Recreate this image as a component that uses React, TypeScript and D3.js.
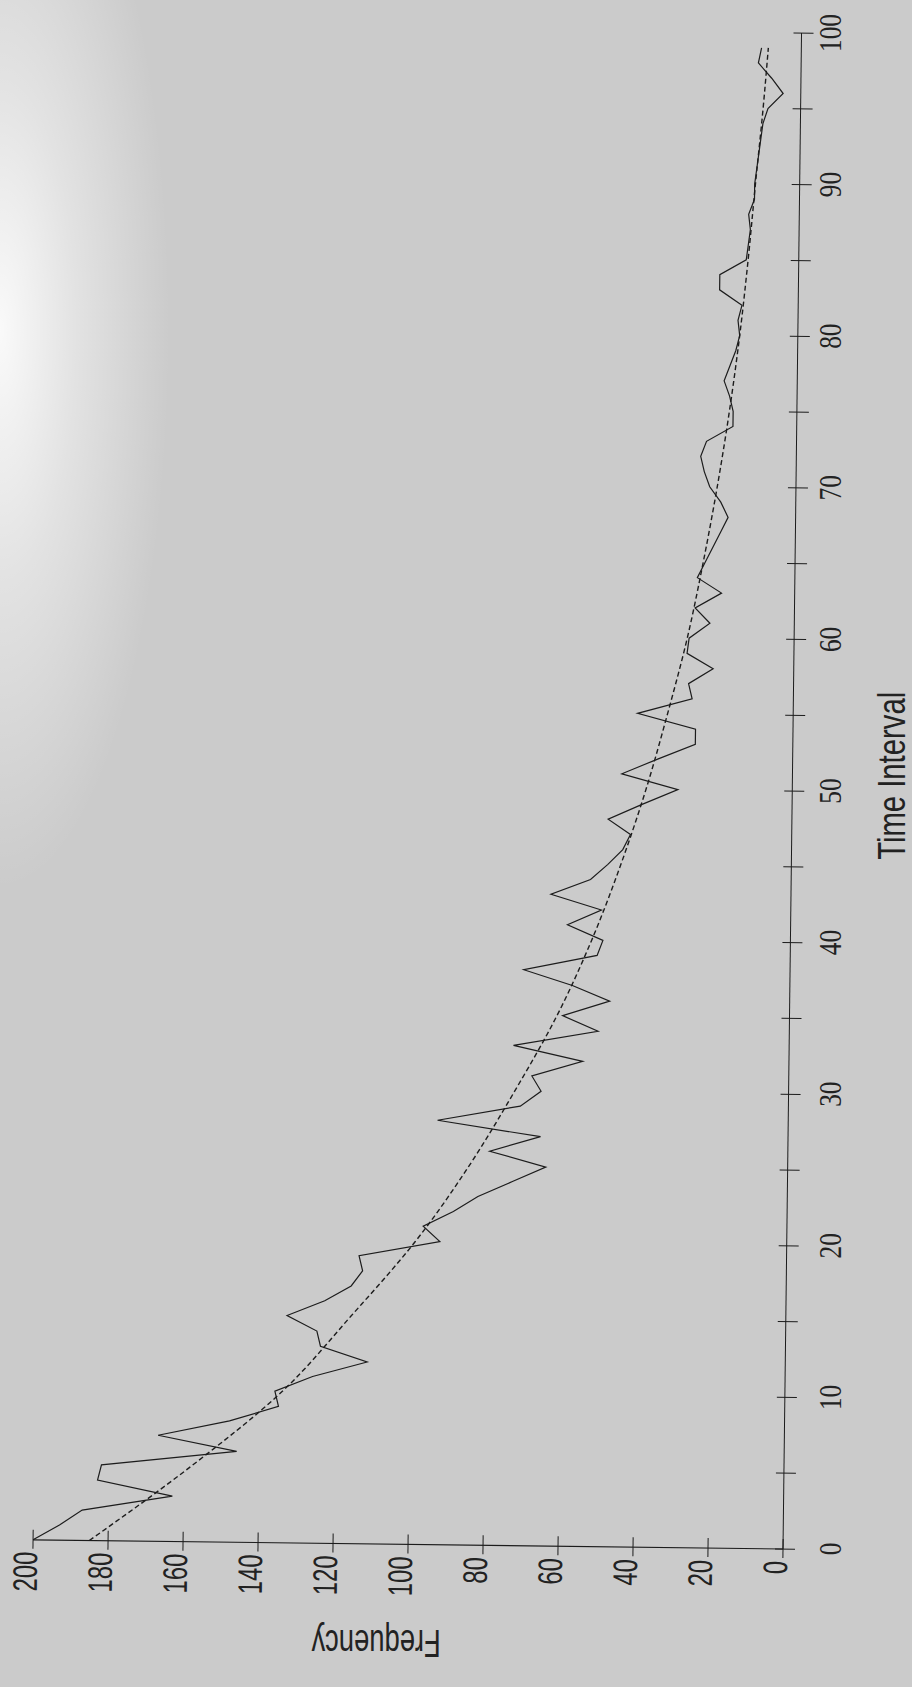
import React from 'react';
import * as d3 from 'd3';

// Observed frequency per time interval (intervals 0..99)
const observedFrequency: number[] = [
  200, 193, 187, 163, 183, 182, 146, 167, 148, 135,
  136, 126, 111.5, 124, 125, 133, 123, 116, 113, 114,
  92.5, 97, 89, 82.5, 73.5, 64.5, 79.5, 66, 93.5, 71.5,
  66, 68.5, 55, 73.5, 51, 60.5, 48, 58, 71, 51.5,
  50, 59.5, 50.5, 64, 53.5, 49, 45, 43, 49, 40,
  30.5, 45.5, 36, 26, 26, 41.5, 27, 28, 21.5, 28.5,
  28, 22.5, 26.5, 19.5, 26, 24, 22, 20, 18, 20,
  23, 24.5, 25.5, 24, 17, 17, 18, 19.5, 18, 16.5,
  15.5, 16, 15, 21, 21, 14, 13.5, 13, 13.5, 12,
  12, 11.5, 11, 10.5, 10, 8.7, 4.7, 7.8, 11.4, 10.6,
];
const intervals: number[] = observedFrequency.map((_, i) => i);

// Fitted decay curve, read at selected intervals
const fitIntervals: number[] = [0, 5, 10, 15, 20, 25, 30, 35, 40, 45, 50, 55, 60, 65, 70, 75, 80, 85, 90, 95, 99];
const fitFrequency: number[] = [185, 158, 134, 116, 99, 85, 73, 62, 53, 45.5, 39, 33.5, 28.5, 24.5, 21, 18, 15.5, 13.5, 11.8, 10, 8.8];

const timeLabelTicks: number[] = [0, 10, 20, 30, 40, 50, 60, 70, 80, 90, 100];
const timeTicks: number[] = [0, 5, 10, 15, 20, 25, 30, 35, 40, 45, 50, 55, 60, 65, 70, 75, 80, 85, 90, 95, 100];
const frequencyTicks: number[] = [0, 20, 40, 60, 80, 100, 120, 140, 160, 180, 200];

const WIDTH = 912;
const HEIGHT = 1687;
// origin of the plot (interval 0, frequency 0) on the page; the chart is turned on its side
const ORIGIN_X = 783;
const ORIGIN_Y = 1549;
const TILT = 0.7;
const TIME_LEN = 1516;
const FREQ_LEN = 750;

const INK = '#1c1c1c';
const TEXT = '#222222';
const SANS = "'Liberation Sans', Arial, Helvetica, sans-serif";
const SERIF = "'Liberation Serif', 'Times New Roman', serif";

export default function App() {
  const x = d3.scaleLinear().domain([0, 100]).range([0, TIME_LEN]);
  const y = d3.scaleLinear().domain([0, 200]).range([0, -FREQ_LEN]);

  const observedPath = d3
    .line<number>()
    .x((_, i) => x(intervals[i]))
    .y((d) => y(d))(observedFrequency) as string;

  const fitPath = d3
    .line<number>()
    .curve(d3.curveMonotoneX)
    .x((_, i) => x(fitIntervals[i]))
    .y((d) => y(d))(fitFrequency) as string;

  return (
    <svg
      width={WIDTH}
      height={HEIGHT}
      viewBox={`0 0 ${WIDTH} ${HEIGHT}`}
      style={{ position: 'absolute', left: 0, top: 0, display: 'block' }}
    >
      <defs>
        <radialGradient id="paperGlow" cx="0.5" cy="0.5" r="0.5">
          <stop offset="0" stopColor="#ffffff" stopOpacity="0.9" />
          <stop offset="0.45" stopColor="#ffffff" stopOpacity="0.45" />
          <stop offset="1" stopColor="#ffffff" stopOpacity="0" />
        </radialGradient>
      </defs>
      <rect x={0} y={0} width={WIDTH} height={HEIGHT} fill="#cbcbcb" />
      <ellipse cx={0} cy={330} rx={170} ry={560} fill="url(#paperGlow)" />

      {/* plot body, with the slight skew of the printed page */}
      <g transform={`translate(${ORIGIN_X},${ORIGIN_Y}) rotate(${-90 + TILT})`}>
        {/* time axis */}
        <line x1={x(0)} x2={x(100)} y1={0} y2={0} stroke={INK} strokeWidth={1} />
        {timeTicks.map((t) => (
          <line key={`tt${t}`} x1={x(t)} x2={x(t)} y1={-8} y2={12} stroke={INK} strokeWidth={1} />
        ))}

        {/* frequency axis */}
        <line x1={0} x2={0} y1={y(0)} y2={y(200)} stroke={INK} strokeWidth={1.1} />
        {frequencyTicks.map((f) => (
          <line key={`ft${f}`} x1={-9} x2={10} y1={y(f)} y2={y(f)} stroke={INK} strokeWidth={1} />
        ))}
        {frequencyTicks.map((f) => (
          <text
            key={`fl${f}`}
            transform={`translate(-12,${y(f) - 8}) scale(0.7,1)`}
            dy="0.36em"
            textAnchor="end"
            fontFamily={SANS}
            fontSize={34}
            fill={TEXT}
          >
            {f}
          </text>
        ))}

        {/* fitted curve */}
        <path d={fitPath} fill="none" stroke={INK} strokeWidth={1.4} strokeDasharray="5 3" />
        {/* observed series */}
        <path d={observedPath} fill="none" stroke={INK} strokeWidth={1.2} strokeLinejoin="miter" />
      </g>

      {/* time labels and axis titles */}
      <g transform={`translate(${ORIGIN_X},${ORIGIN_Y}) rotate(-90)`}>
        {timeLabelTicks.map((t) => (
          <text
            key={`tl${t}`}
            transform={`translate(${x(t)},58) scale(0.79,1)`}
            textAnchor="middle"
            fontFamily={SERIF}
            fontSize={32}
            fill={TEXT}
          >
            {t}
          </text>
        ))}
        <text
          transform={`translate(${x(51)},122) scale(0.77,1)`}
          textAnchor="middle"
          fontFamily={SANS}
          fontSize={38}
          fill={TEXT}
        >
          Time Interval
        </text>
        <text
          transform={`translate(-81,${y(108.5)}) rotate(-90) scale(0.72,1)`}
          textAnchor="middle"
          fontFamily={SANS}
          fontSize={38}
          fill={TEXT}
        >
          Frequency
        </text>
      </g>
    </svg>
  );
}
